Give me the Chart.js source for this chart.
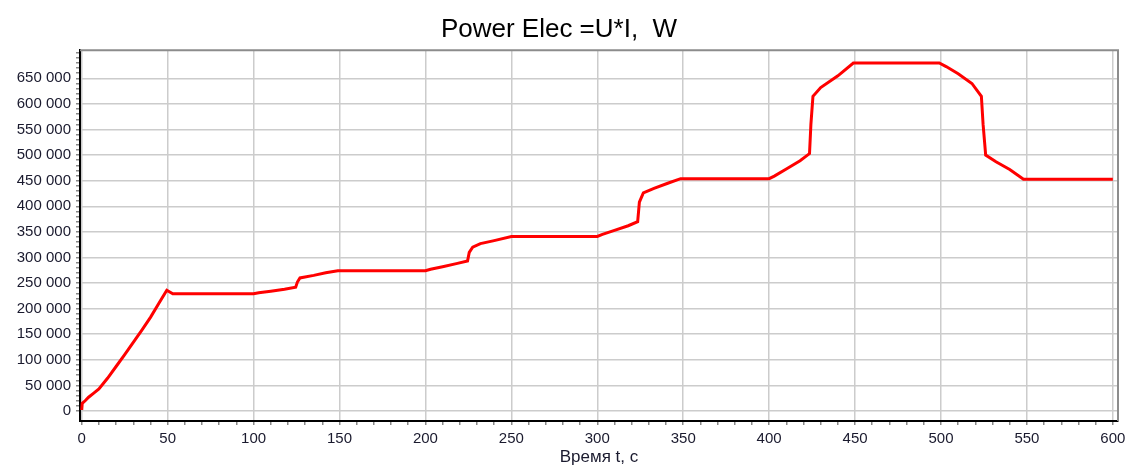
<!DOCTYPE html>
<html>
<head>
<meta charset="utf-8">
<script src="https://cdn.jsdelivr.net/npm/chart.js@4"></script>
<style>
  html, body { margin: 0; padding: 0; background: #fff; }
  #wrap { width: 1127px; height: 468px; }
</style>
</head>
<body>
<div id="wrap"><canvas id="myChart"></canvas></div>
<script>
// setup
const times = [0, 0.3, 2, 4, 7, 10, 15, 20, 25, 30, 35, 40, 45, 49.5, 53, 100, 103, 110, 118, 124.5, 125.5, 127, 135, 142, 149, 200, 203, 210, 218, 224.5, 225.5, 227.5, 232, 240, 250, 300, 303, 310, 318, 323.5, 324.5, 326.8, 333, 341, 348.5, 400, 403, 410, 418, 423.5, 424.3, 425.5, 430, 440, 449, 499, 503, 510, 518, 523.5, 524.5, 526, 532, 540, 548, 600];
const power = [2000, 15000, 20000, 27000, 35000, 43000, 64000, 87000, 110000, 134000, 158000, 183000, 211000, 236000, 229000, 229000, 231000, 234000, 238000, 242000, 252000, 260000, 265000, 270000, 274000, 274000, 277000, 282000, 288000, 293000, 310000, 320000, 327000, 333000, 341000, 341000, 345000, 353000, 362000, 370000, 408000, 426000, 435000, 445000, 454000, 454000, 459000, 473000, 489000, 503000, 560000, 615000, 632000, 655000, 680000, 680000, 673000, 659000, 640000, 615000, 560000, 500000, 487000, 472000, 453000, 453000];
const xTickLabels = [0, 50, 100, 150, 200, 250, 300, 350, 400, 450, 500, 550, 600];
const yTickLabels = [0, 50000, 100000, 150000, 200000, 250000, 300000, 350000, 400000, 450000, 500000, 550000, 600000, 650000];

const points = times.map((t, i) => ({ x: t, y: power[i] }));

function fmt(v) {
  return String(Math.round(v)).replace(/\B(?=(\d{3})+(?!\d))/g, ' ');
}

// major + minor ticks at a fixed step
function stepTicks(from, to, step) {
  const out = [];
  for (let v = from; v <= to; v += step) out.push({ value: v });
  return out;
}

// grey frame on top/right
const framePlugin = {
  id: 'frame',
  beforeDatasetsDraw(chart) {
    const { ctx, chartArea: a } = chart;
    ctx.save();
    ctx.strokeStyle = '#8c8c8c';
    ctx.lineWidth = 2;
    ctx.beginPath();
    ctx.moveTo(a.left, a.top);
    ctx.lineTo(a.right, a.top);
    ctx.lineTo(a.right, a.bottom);
    ctx.stroke();
    ctx.restore();
  }
};

const data = {
  datasets: [{
    label: 'Power',
    data: points,
    borderColor: '#ff0000',
    borderWidth: 3,
    pointRadius: 0,
    tension: 0,
    fill: false
  }]
};

const tickFont = { family: 'Liberation Sans', size: 15 };

// config
const config = {
  type: 'line',
  data,
  options: {
    responsive: true,
    maintainAspectRatio: false,
    animation: false,
    layout: { padding: { left: 0, right: 9, top: 0, bottom: 0 } },
    plugins: {
      legend: { display: false },
      tooltip: { enabled: false },
      title: {
        display: true,
        text: 'Power Elec =U*I,  W',
        color: '#000',
        font: { family: 'Liberation Sans', size: 26, weight: 'normal' },
        padding: { top: 14, bottom: 5 }
      }
    },
    scales: {
      x: {
        type: 'linear',
        min: -1,
        max: 603,
        afterBuildTicks: s => { s.ticks = stepTicks(0, 600, 10); },
        border: { color: '#000', width: 2 },
        grid: {
          color: c => (c.tick && xTickLabels.includes(c.tick.value)) ? '#cccccc' : 'transparent',
          tickColor: '#888',
          tickLength: 4,
          lineWidth: 1.5
        },
        ticks: {
          autoSkip: false,
          maxRotation: 0,
          color: '#1a1a2e',
          font: tickFont,
          padding: 5,
          callback: v => xTickLabels.includes(v) ? String(v) : ''
        },
        title: {
          display: true,
          text: 'Время t, c',
          color: '#1a1a2e',
          font: { family: 'Liberation Sans', size: 17 },
          padding: { top: 0, bottom: 0 }
        },
        afterFit: s => { s.height = 47; s.paddingLeft = 0; s.paddingRight = 0; }
      },
      y: {
        type: 'linear',
        min: -19500,
        max: 705000,
        afterBuildTicks: s => { s.ticks = stepTicks(0, 700000, 10000); },
        border: { color: '#000', width: 2 },
        grid: {
          color: c => (c.tick && yTickLabels.includes(c.tick.value)) ? '#cccccc' : 'transparent',
          tickColor: '#888',
          tickLength: 4,
          lineWidth: 1.5
        },
        ticks: {
          autoSkip: false,
          color: '#1a1a2e',
          font: tickFont,
          padding: 5,
          callback: v => yTickLabels.includes(v) ? fmt(v) : ''
        },
        afterFit: s => { s.width = 80; }
      }
    }
  },
  plugins: [framePlugin]
};

// render init block
const myChart = new Chart(document.getElementById('myChart'), config);
</script>
</body>
</html>
